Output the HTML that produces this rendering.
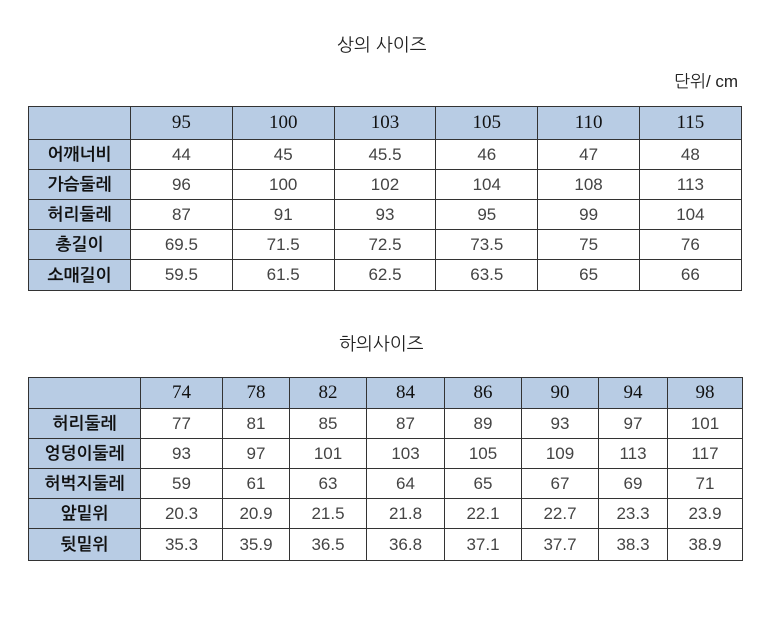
<!DOCTYPE html>
<html><head><meta charset="utf-8"><style>
body{margin:0;width:780px;height:628px;background:#fff;font-family:"Liberation Sans","NanumGothic","Noto Sans CJK KR",sans-serif;color:#222;position:relative;overflow:hidden}
.t{position:absolute;font-size:18px;color:#222}
table{position:absolute;border-collapse:collapse;table-layout:fixed}
td{border:1.5px solid #333;text-align:center;font-size:17px;padding:0;color:#444}
td.h{background:#b8cce4;font-family:"Liberation Serif","Noto Serif CJK SC",serif;color:#111;font-size:19px}
td.l{background:#b8cce4;font-weight:600;color:#111;font-family:"NanumGothic","Noto Sans CJK KR",sans-serif}
</style></head><body>
<div class="t" style="left:337px;top:34px">상의 사이즈</div>
<div class="t" style="left:674px;top:71px;font-size:17px">단위/ cm</div>
<table style="left:28px;top:106px;width:713px">
<colgroup><col style="width:102px"><col span="6" style="width:101.8px"></colgroup>
<tr style="height:33px"><td class="h"></td><td class="h">95</td><td class="h">100</td><td class="h">103</td><td class="h">105</td><td class="h">110</td><td class="h">115</td></tr>
<tr style="height:30px"><td class="l">어깨너비</td><td>44</td><td>45</td><td>45.5</td><td>46</td><td>47</td><td>48</td></tr>
<tr style="height:30px"><td class="l">가슴둘레</td><td>96</td><td>100</td><td>102</td><td>104</td><td>108</td><td>113</td></tr>
<tr style="height:30px"><td class="l">허리둘레</td><td>87</td><td>91</td><td>93</td><td>95</td><td>99</td><td>104</td></tr>
<tr style="height:30px"><td class="l">총길이</td><td>69.5</td><td>71.5</td><td>72.5</td><td>73.5</td><td>75</td><td>76</td></tr>
<tr style="height:31px"><td class="l">소매길이</td><td>59.5</td><td>61.5</td><td>62.5</td><td>63.5</td><td>65</td><td>66</td></tr>
</table>
<div class="t" style="left:339px;top:333px">하의사이즈</div>
<table style="left:28px;top:377px;width:714px">
<colgroup><col style="width:112px"><col style="width:82px"><col style="width:67px"><col style="width:77px"><col style="width:78px"><col style="width:77px"><col style="width:77px"><col style="width:69px"><col style="width:75px"></colgroup>
<tr style="height:31px"><td class="h"></td><td class="h">74</td><td class="h">78</td><td class="h">82</td><td class="h">84</td><td class="h">86</td><td class="h">90</td><td class="h">94</td><td class="h">98</td></tr>
<tr style="height:30px"><td class="l">허리둘레</td><td>77</td><td>81</td><td>85</td><td>87</td><td>89</td><td>93</td><td>97</td><td>101</td></tr>
<tr style="height:30px"><td class="l">엉덩이둘레</td><td>93</td><td>97</td><td>101</td><td>103</td><td>105</td><td>109</td><td>113</td><td>117</td></tr>
<tr style="height:30px"><td class="l">허벅지둘레</td><td>59</td><td>61</td><td>63</td><td>64</td><td>65</td><td>67</td><td>69</td><td>71</td></tr>
<tr style="height:30px"><td class="l">앞밑위</td><td>20.3</td><td>20.9</td><td>21.5</td><td>21.8</td><td>22.1</td><td>22.7</td><td>23.3</td><td>23.9</td></tr>
<tr style="height:32px"><td class="l">뒷밑위</td><td>35.3</td><td>35.9</td><td>36.5</td><td>36.8</td><td>37.1</td><td>37.7</td><td>38.3</td><td>38.9</td></tr>
</table>
</body></html>
